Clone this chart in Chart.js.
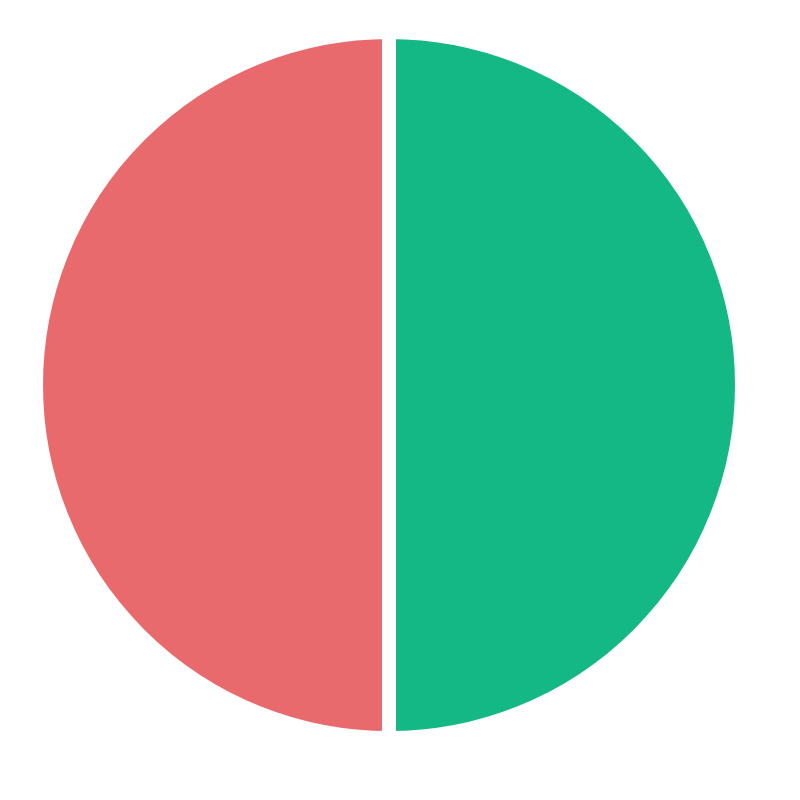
<!DOCTYPE html>
<html>
<head>
<meta charset="utf-8">
<script src="https://cdn.jsdelivr.net/npm/chart.js@4/dist/chart.umd.min.js"></script>
<style>
html,body{margin:0;padding:0;background:#fff;}
#wrap{width:800px;height:800px;position:relative;}
</style>
</head>
<body>
<div id="wrap"><canvas id="c" width="800" height="800"></canvas></div>
<script>
const categories = ["Green", "Red"];
const values = [50, 50];
const colors = ["#14B885", "#E96A6C"];

new Chart(document.getElementById('c'), {
  type: 'pie',
  data: {
    labels: categories,
    datasets: [{
      data: values,
      backgroundColor: colors,
      borderColor: '#ffffff',
      borderWidth: 14,
      hoverOffset: 0,
      offset: 0
    }]
  },
  options: {
    responsive: false,
    animation: false,
    layout: { padding: { left: 29, right: 51, top: 25, bottom: 55 } },
    plugins: { legend: { display: false }, tooltip: { enabled: false } }
  }
});
</script>
</body>
</html>
